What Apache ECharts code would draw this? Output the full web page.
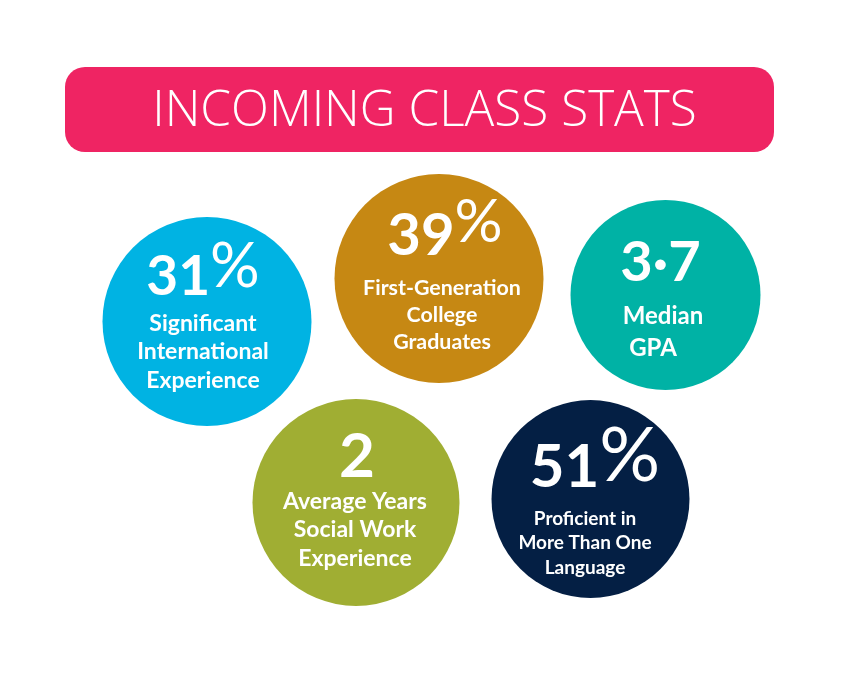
<!DOCTYPE html>
<html>
<head>
<meta charset="utf-8">
<title>Incoming Class Stats</title>
<style>
  html, body { margin: 0; padding: 0; background: #fff; }
  #chart { width: 859px; height: 684px; }
</style>
<script src="https://cdn.jsdelivr.net/npm/echarts@6/dist/echarts.min.js"></script>
</head>
<body>
<div id="chart"></div>
<script>
const heading = "INCOMING CLASS STATS";

const numbers = ["31", "39", "3·7", "2", "51"];
const suffixes = ["%", "%", "", "", "%"];
const captions = [
  ["Significant", "International", "Experience"],
  ["First-Generation", "College", "Graduates"],
  ["Median", "GPA"],
  ["Average Years", "Social Work", "Experience"],
  ["Proficient in", "More Than One", "Language"]
];

const bubbleX = [207, 439, 665.5, 356, 590.5];
const bubbleY = [321.5, 278.5, 295, 502.5, 499];
const bubbleSize = [209, 209, 190, 207, 198];
const bubbleColors = ["#00b3e3", "#c68813", "#00b2a5", "#a0ae33", "#041f44"];

const numberX = [203, 445, 660.5, 357, 595];
const numberY = [277, 236, 263, 457, 468];
const numberFont = [55, 58, 56, 62, 60];
const suffixFont = [62, 60, 0, 0, 76];
const suffixLift = [20, 26, 0, 0, 24];
const captionX = [
  [203, 203, 203],
  [442, 442, 442],
  [663, 653],
  [355, 355, 355],
  [585, 585, 585]
];
const captionY = [
  [324, 352, 381],
  [288, 315, 342],
  [316, 348],
  [502, 530, 559],
  [519, 543, 568]
];
const captionFont = [23, 21.4, 24, 23, 19];

const fontFamily = "Lato, 'Open Sans', sans-serif";

const chart = echarts.init(document.getElementById("chart"), null, { renderer: "canvas" });

const bubbleData = bubbleX.map((x, i) => ({
  value: [x, bubbleY[i]],
  symbolSize: bubbleSize[i],
  itemStyle: { color: bubbleColors[i], opacity: 1 }
}));

const numberData = numbers.map((text, i) => ({
  value: [numberX[i], numberY[i]],
  label: {
    formatter: suffixes[i] ? `{n|${text}}{p|${suffixes[i]}}` : `{n|${text}}`,
    rich: {
      n: { fontFamily, fontSize: numberFont[i], fontWeight: 700, color: "#fff" },
      p: { fontFamily, fontSize: suffixFont[i], fontWeight: 400, color: "#fff", padding: [0, 0, suffixLift[i], 0] }
    }
  }
}));

const captionData = [];
captions.forEach((lines, i) => {
  lines.forEach((line, j) => {
    captionData.push({
      value: [captionX[i][j], captionY[i][j]],
      label: {
        formatter: line,
        fontFamily,
        fontSize: captionFont[i],
        fontWeight: 700,
        color: "#fff"
      }
    });
  });
});

const textSeries = (data) => ({
  type: "scatter",
  data,
  symbolSize: 1,
  itemStyle: { color: "rgba(0,0,0,0)", opacity: 1 },
  label: { show: true, position: "inside", align: "center", verticalAlign: "middle" },
  silent: true,
  z: 5
});

chart.setOption({
  animation: false,
  backgroundColor: "#fff",
  title: {
    text: heading,
    left: 424.5,
    top: 112,
    textAlign: "center",
    textVerticalAlign: "middle",
    padding: 0,
    textStyle: { fontFamily: "'Open Sans', Lato, sans-serif", fontSize: 49.5, fontWeight: 300, color: "#fff" },
    z: 10
  },
  graphic: [{
    type: "rect",
    z: 1,
    shape: { x: 65, y: 67, width: 709, height: 85, r: 20 },
    style: { fill: "#ef2463" }
  }],
  grid: { left: 0, right: 0, top: 0, bottom: 0 },
  xAxis: { type: "value", min: 0, max: 859, show: false },
  yAxis: { type: "value", min: 0, max: 684, inverse: true, show: false },
  series: [
    { type: "scatter", data: bubbleData, silent: true, z: 2 },
    textSeries(numberData),
    textSeries(captionData)
  ]
});
</script>
</body>
</html>
